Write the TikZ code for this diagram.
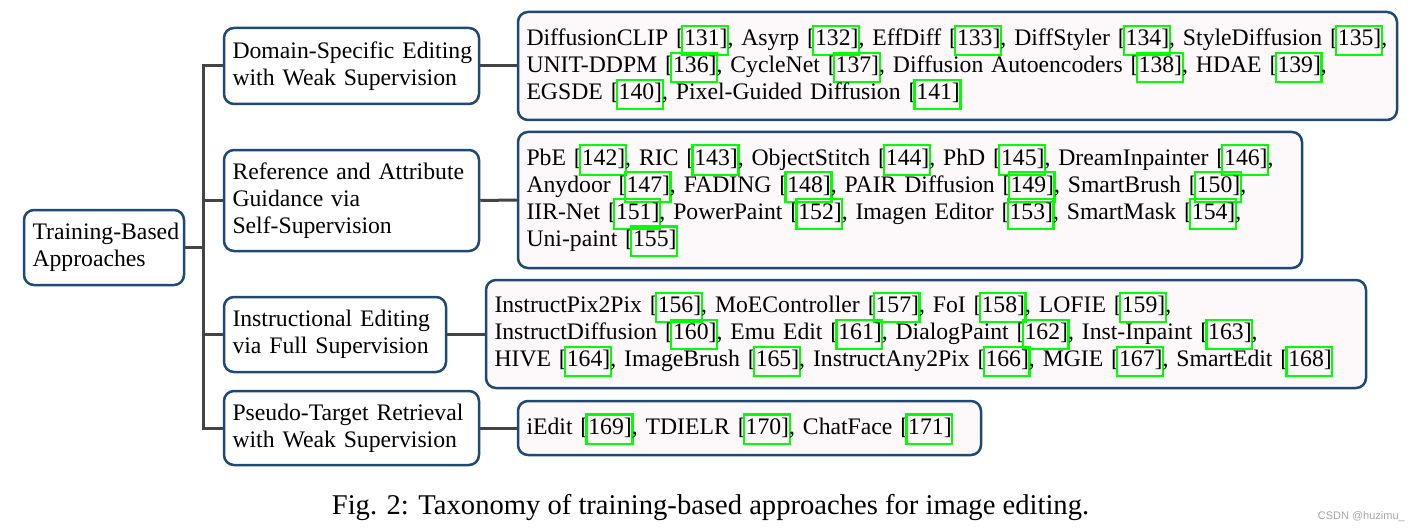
\documentclass[tikz,border=0pt]{standalone}
\usepackage{fontspec}
\setmainfont{Liberation Serif}
\newfontfamily\wmfont{Liberation Sans}
\definecolor{boxblue}{RGB}{31,73,115}
\definecolor{leaffill}{RGB}{253,248,249}
\definecolor{connc}{RGB}{68,68,68}
\definecolor{citegreen}{RGB}{0,255,0}
\newcommand\treefont{\fontsize{23.7}{27}\selectfont\hyphenpenalty10000 \exhyphenpenalty10000 \hbadness10000 \hfuzz20pt\relax}
\newcommand\cit[1]{[\setbox0\hbox{#1}\rlap{\smash{\kern-3pt\textcolor{citegreen}{\fboxsep0pt\fboxrule2.3pt\fbox{\vrule height18.7pt depth8.4pt width0pt\kern\dimexpr\wd0+8pt\relax}}}}#1]}
\tikzset{
  treebox/.style={draw=boxblue, line width=2.5pt, rounded corners=10pt, fill=white,
    inner xsep=8.5pt, inner ysep=0pt, align=left, font=\treefont},
  leafbox/.style={treebox, fill=leaffill},
  conn/.style={draw=connc, line width=3pt},
}
\begin{document}
\begin{tikzpicture}[x=1pt,y=-1pt]
\useasboundingbox (0,0) rectangle (1418,532);
% root
\node[treebox, minimum width=160pt, minimum height=75pt, text width=143pt] (root) at (104,247.5) {Training-Based\\Approaches};
% middle level
\node[treebox, minimum width=255pt, minimum height=76pt, text width=238pt] (m1) at (351.5,66) {Domain-Specific~Editing\\with~Weak~Supervision};
\node[treebox, minimum width=255pt, minimum height=101pt, text width=238pt] (m2) at (351.5,200.5) {Reference~and~Attribute\\Guidance via\\Self-Supervision};
\node[treebox, minimum width=222pt, minimum height=75pt, text width=205pt] (m3) at (335,334.5) {Instructional~Editing\\via~Full~Supervision};
\node[treebox, minimum width=255pt, minimum height=74pt, text width=238pt] (m4) at (351.5,428) {Pseudo-Target~Retrieval\\with~Weak~Supervision};
% leaves
\node[leafbox, minimum width=879pt, minimum height=108pt, text width=862pt] (l1) at (957.5,66) {DiffusionCLIP \cit{131}, Asyrp \cit{132}, EffDiff \cit{133}, DiffStyler \cit{134}, StyleDiffusion \cit{135},\\UNIT-DDPM \cit{136}, CycleNet \cit{137}, Diffusion Autoencoders \cit{138}, HDAE \cit{139},\\EGSDE \cit{140}, Pixel-Guided Diffusion \cit{141}};
\node[leafbox, minimum width=784pt, minimum height=136pt, text width=767pt] (l2) at (910,200) {PbE \cit{142}, RIC \cit{143}, ObjectStitch \cit{144}, PhD \cit{145}, DreamInpainter \cit{146},\\Anydoor \cit{147}, FADING \cit{148}, PAIR Diffusion \cit{149}, SmartBrush \cit{150},\\IIR-Net \cit{151}, PowerPaint \cit{152}, Imagen Editor \cit{153}, SmartMask \cit{154},\\Uni-paint \cit{155}};
\node[leafbox, minimum width=880pt, minimum height=108pt, text width=863pt] (l3) at (926,334) {InstructPix2Pix \cit{156}, MoEController \cit{157}, FoI \cit{158}, LOFIE \cit{159},\\InstructDiffusion \cit{160}, Emu Edit \cit{161}, DialogPaint \cit{162}, Inst-Inpaint \cit{163},\\HIVE \cit{164}, ImageBrush \cit{165}, InstructAny2Pix \cit{166}, MGIE \cit{167}, SmartEdit \cit{168}};
\node[leafbox, minimum width=463pt, minimum height=54pt, text width=446pt] (l4) at (749.5,428) {iEdit \cit{169}, TDIELR \cit{170}, ChatFace \cit{171}};
% connectors
\coordinate (trunk) at (203,247.5);
\draw[conn] (root.east) -- (trunk);
\draw[conn] (m1.west) -- (m1.west -| trunk) -- (m4.west -| trunk) -- (m4.west);
\draw[conn] (m2.west) -- (m2.west -| trunk);
\draw[conn] (m3.west) -- (m3.west -| trunk);
\draw[conn] (m1.east) -- (l1.west);
\draw[conn] (m2.east) -- (l2.west);
\draw[conn] (m3.east) -- (m3.east -| l3.west);
\draw[conn] (m4.east) -- (l4.west);
% caption and watermark
\node[font=\fontsize{28.6}{33}\selectfont, inner sep=0pt] (cap) at (710.5,508) {Fig. 2: Taxonomy of training-based approaches for image editing.};
\node[font=\wmfont\fontsize{11}{13}\selectfont, text=gray!70, anchor=east, inner sep=0pt] (wm) at (1405,517) {CSDN @huzimu\_};
\end{tikzpicture}
\end{document}
